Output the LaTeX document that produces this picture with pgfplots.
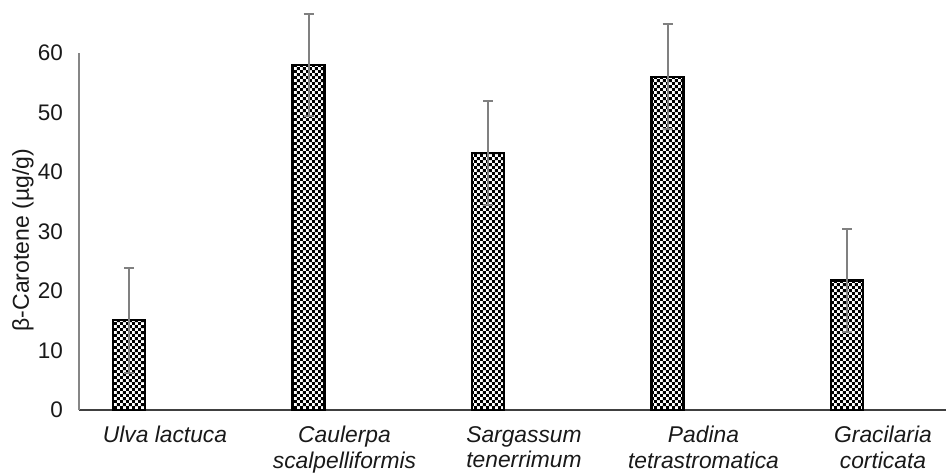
\documentclass[border=0pt]{standalone}
\usepackage{fontspec}
\setmainfont{Liberation Sans}
\usepackage{pgfplots}
\pgfplotsset{compat=1.18}
\usetikzlibrary{patterns}
\pgfdeclarepatternformonly{mycheck}{\pgfpointorigin}{\pgfqpoint{6.4pt}{6.4pt}}{\pgfqpoint{6.4pt}{6.4pt}}{%
  \pgfpathrectangle{\pgfpointorigin}{\pgfqpoint{3.2pt}{3.2pt}}%
  \pgfpathrectangle{\pgfqpoint{3.2pt}{3.2pt}}{\pgfqpoint{3.2pt}{3.2pt}}%
  \pgfusepath{fill}}
\definecolor{errgray}{RGB}{128,128,128}
\definecolor{yaxgray}{RGB}{134,134,134}
\definecolor{xaxgray}{RGB}{64,64,64}
\begin{document}
\begin{tikzpicture}[x=1pt,y=1pt]
\begin{axis}[
  at={(79pt,62pt)}, anchor=south west,
  width=867pt, height=357pt, scale only axis,
  xmin=-0.479, xmax=4.351, ymin=0, ymax=60,
  clip=false,
  axis x line*=bottom, axis y line*=left,
  x axis line style={xaxgray, line width=1.6pt, -},
  y axis line style={yaxgray, line width=1.6pt, -},
  major tick length=0pt,
  xtick={0,1,2,3,4},
  xticklabels={Ulva lactuca, Caulerpa\\scalpelliformis, Sargassum\\tenerrimum, Padina\\tetrastromatica, Gracilaria\\corticata},
  xticklabel style={align=center, anchor=north, inner sep=0pt, yshift=-16pt, font=\fontsize{22.8}{25.5}\selectfont\itshape, text=black!90},
  ytick={0,10,...,60},
  yticklabel style={anchor=east, inner sep=0pt, xshift=-16pt, font=\fontsize{22.5}{26}\selectfont, text=black!90},
  /pgf/number format/assume math mode=true,
  every axis y label/.style={at={(axis description cs:-0.0646,0.476)}, rotate=90, anchor=center, font=\fontsize{23}{27}\selectfont, text=black!90},
  ylabel={β-Carotene (µg/g)},
]
\addplot[ybar, bar width=32pt, bar shift=0pt, draw=black, line width=2.6pt, pattern=mycheck, pattern color=black,
  error bars/.cd, y dir=both, y explicit,
  error bar style={errgray, line width=2pt},
  error mark options={rotate=90, mark size=5pt, line width=2pt, errgray}]
coordinates {
  (-0.2,15.1) +- (0,8.8)
  (0.8,58.0) +- (0,8.6)
  (1.8,43.2) +- (0,8.7)
  (2.8,56.0) +- (0,8.8)
  (3.8,21.8) +- (0,8.7)
};
\end{axis}
\pgfresetboundingbox
\useasboundingbox (0,0) rectangle (946,472);
\end{tikzpicture}
\end{document}
